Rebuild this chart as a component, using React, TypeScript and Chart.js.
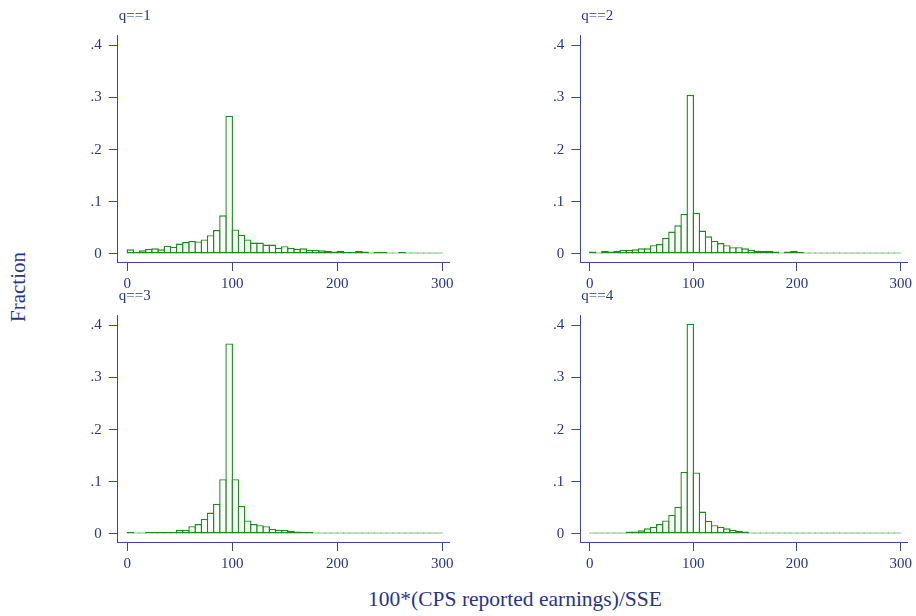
import { useEffect, useRef } from "react";
import { Chart, registerables } from "chart.js";

Chart.register(...registerables);

// ---- data ----
const binCount = 51;
const rangeMin = 0;
const rangeMax = 300;
const xTickValues = [0, 100, 200, 300];
const xTickLabels = ["0", "100", "200", "300"];
const yTickValues = [0, 0.1, 0.2, 0.3, 0.4];
const yTickLabels = ["0", ".1", ".2", ".3", ".4"];
const panelLabels = ["q==1", "q==2", "q==3", "q==4"];

const q1 = [
  0.009, 0.004, 0.007, 0.01, 0.011, 0.009, 0.016, 0.014, 0.02, 0.023, 0.025, 0.024, 0.028, 0.036, 0.046, 0.074,
  0.265,
  0.047, 0.037, 0.028, 0.022, 0.022, 0.018, 0.018, 0.012, 0.015, 0.012, 0.01, 0.011, 0.008, 0.008, 0.007, 0.006,
  0.005, 0.006, 0.004, 0.004, 0.006, 0.005, 0.003, 0.004, 0.004, 0.003, 0.002, 0.004, 0.003, 0.003, 0.003, 0.003,
  0.003, 0.003,
];
const q2 = [
  0.005, 0.003, 0.006, 0.005, 0.006, 0.008, 0.008, 0.009, 0.011, 0.011, 0.017, 0.019, 0.031, 0.043, 0.055, 0.077,
  0.305,
  0.079, 0.045, 0.034, 0.025, 0.021, 0.017, 0.013, 0.013, 0.011, 0.008, 0.006, 0.006, 0.006, 0.005, 0.003, 0.005,
  0.006, 0.004, 0.002, 0.001, 0.002, 0.001, 0.002, 0.002, 0.002, 0.002, 0.0005, 0.0005, 0.001, 0.001, 0.001, 0.001,
  0.001, 0.001,
];
const q3 = [
  0.004, 0.002, 0.002, 0.004, 0.004, 0.004, 0.004, 0.004, 0.008, 0.008, 0.015, 0.019, 0.029, 0.041, 0.058, 0.105,
  0.365,
  0.105, 0.054, 0.026, 0.019, 0.017, 0.015, 0.01, 0.008, 0.008, 0.006, 0.005, 0.004, 0.004, 0.003, 0.003, 0.003,
  0.003, 0.001, 0.001, 0.001, 0.002, 0.001, 0.002, 0.001, 0.0005, 0.0005, 0.0005, 0.0005, 0.0005, 0.0005, 0.0005,
  0.0005, 0.0005, 0.0005,
];
const q4 = [
  0.003, 0.003, 0.001, 0.002, 0.003, 0.003, 0.005, 0.005, 0.007, 0.011, 0.014, 0.019, 0.026, 0.037, 0.052, 0.119,
  0.403,
  0.118, 0.043, 0.025, 0.017, 0.014, 0.011, 0.008, 0.006, 0.005, 0.003, 0.002, 0.001, 0.002, 0.001, 0.001, 0.002,
  0.002, 0.0005, 0.0005, 0.0005, 0.0005, 0.0005, 0.0005, 0.0005, 0.0005, 0.0005, 0.0005, 0.0005, 0.0005, 0.0005,
  0.0005, 0.0005, 0.0005, 0.0005,
];
const panelSeries = [q1, q2, q3, q4];

const yTitle = "Fraction";
const xTitle = "100*(CPS reported earnings)/SSE";

// ---- style ----
const TEXT = "#27348f";
const AXIS = "#3a48a3";
const BAR = "#1a8c1a";
const FONT = "'Liberation Serif', 'DejaVu Serif', serif";

const binWidth = (rangeMax - rangeMin) / binCount;
const binCenters = Array.from({ length: binCount }, (_, i) => rangeMin + (i + 0.5) * binWidth);

type PanelGeom = { left: number; top: number; width: number; height: number; yAxisW: number; xAxisH: number; padTop: number; padRight: number };

const panels: PanelGeom[] = [
  { left: 40, top: 0, width: 420, height: 292, yAxisW: 77.8, xAxisH: 30, padTop: 35, padRight: 10.9 },
  { left: 503, top: 0, width: 413, height: 292, yAxisW: 77.3, xAxisH: 30, padTop: 35, padRight: 4 },
  { left: 40, top: 280, width: 420, height: 292, yAxisW: 77.8, xAxisH: 30, padTop: 35, padRight: 10.9 },
  { left: 503, top: 280, width: 413, height: 292, yAxisW: 77.3, xAxisH: 30, padTop: 35, padRight: 4 },
];

function Panel({ idx }: { idx: number }) {
  const ref = useRef<HTMLCanvasElement | null>(null);
  const g = panels[idx];
  useEffect(() => {
    if (!ref.current) return;
    const label = panelLabels[idx];
    const labelPlugin = {
      id: "panelLabel",
      afterDraw(chart: any) {
        const ctx = chart.ctx;
        ctx.save();
        ctx.font = `15px ${FONT}`;
        ctx.fillStyle = TEXT;
        ctx.textBaseline = "alphabetic";
        ctx.textAlign = "left";
        ctx.fillText(label, chart.chartArea.left + 1, 20);
        ctx.restore();
      },
    };
    const chart = new Chart(ref.current, {
      type: "bar",
      data: {
        datasets: [
          {
            data: binCenters.map((x, i) => ({ x, y: panelSeries[idx][i] })),
            backgroundColor: "#ffffff",
            borderColor: BAR,
            borderWidth: 1.4,
            borderSkipped: false,
            barPercentage: 1.2265,
            categoryPercentage: 1,
            minBarLength: 1.4,
            inflateAmount: 0,
          },
        ],
      },
      options: {
        responsive: false,
        animation: false,
        layout: { padding: { top: g.padTop, right: g.padRight, left: 0, bottom: 0 } },
        plugins: { legend: { display: false }, tooltip: { enabled: false }, title: { display: false } },
        scales: {
          x: {
            type: "linear",
            min: -9,
            max: 306.5,
            offset: false,
            afterFit: (s: any) => {
              s.height = g.xAxisH;
            },
            ticks: {
              stepSize: 100,
              includeBounds: false,
              autoSkip: false,
              maxRotation: 0,
              padding: 4,
              color: TEXT,
              font: { family: FONT, size: 15 },
              callback: (v: any) => {
                const k = xTickValues.indexOf(Number(v));
                return k >= 0 ? xTickLabels[k] : "";
              },
            },
            grid: {
              display: true,
              offset: false,
              drawOnChartArea: false,
              drawTicks: true,
              tickLength: 9,
              color: AXIS,
              lineWidth: 1,
            },
            border: { display: true, color: AXIS, width: 1 },
          },
          y: {
            type: "linear",
            min: -0.015326,
            max: 0.41954,
            afterFit: (s: any) => {
              s.width = g.yAxisW;
            },
            ticks: {
              stepSize: 0.1,
              includeBounds: false,
              autoSkip: false,
              padding: 7,
              color: TEXT,
              font: { family: FONT, size: 15 },
              callback: (v: any) => {
                const k = yTickValues.findIndex((t) => Math.abs(t - Number(v)) < 1e-9);
                return k >= 0 ? yTickLabels[k] : "";
              },
            },
            grid: {
              display: true,
              offset: false,
              drawOnChartArea: false,
              drawTicks: true,
              tickLength: 9,
              color: AXIS,
              lineWidth: 1,
            },
            border: { display: true, color: AXIS, width: 1 },
          },
        },
      },
      plugins: [labelPlugin],
    } as any);
    return () => chart.destroy();
  }, [idx]);
  return (
    <canvas
      ref={ref}
      width={g.width}
      height={g.height}
      style={{ position: "absolute", left: g.left, top: g.top, width: g.width, height: g.height }}
    />
  );
}

export default function App() {
  return (
    <div style={{ position: "absolute", left: 0, top: 0, width: 916, height: 616, background: "#ffffff", overflow: "hidden" }}>
      {panels.map((_, i) => (
        <Panel key={i} idx={i} />
      ))}
      <div
        style={{
          position: "absolute",
          left: 18,
          top: 287,
          transform: "translate(-50%, -50%) rotate(-90deg)",
          fontFamily: FONT,
          fontSize: 21,
          color: TEXT,
          whiteSpace: "nowrap",
          lineHeight: 1,
        }}
      >
        {yTitle}
      </div>
      <div
        style={{
          position: "absolute",
          left: 515,
          top: 600,
          transform: "translate(-50%, -50%)",
          fontFamily: FONT,
          fontSize: 21.5,
          color: TEXT,
          whiteSpace: "nowrap",
          lineHeight: 1,
        }}
      >
        {xTitle}
      </div>
    </div>
  );
}
